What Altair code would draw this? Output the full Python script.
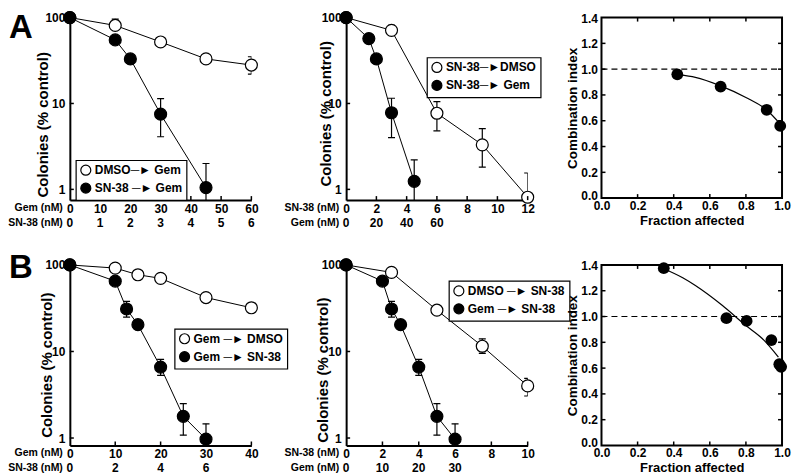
import altair as alt
import pandas as pd

FONT = "Liberation Sans"
ARROW = "\u2500\u25ba"

# ---------------- data ----------------
# Panel A-left: x = Gem (nM)
a1_open_x = [0, 15, 30, 45, 60]
a1_open_y = [100, 81, 52, 33, 28]
a1_fill_x = [0, 15, 20, 30, 45]
a1_fill_y = [100, 55, 33, 7.5, 1.05]
a1_err_x = [15, 60, 30, 45]
a1_err_lo = [81, 22, 4.1, 0.3]
a1_err_hi = [96, 35, 11.4, 2.0]
a1_xticks = [0, 10, 20, 30, 40, 50, 60]
a1_row2_pos = [0, 10, 20, 30, 40, 50, 60]
a1_row2_lab = ["0", "1", "2", "3", "4", "5", "6"]
a1_legend = ["DMSO" + ARROW + " Gem", "SN-38 " + ARROW + " Gem"]
a1_rows = ["Gem (nM)", "SN-38 (nM)"]

# Panel A-middle: x = SN-38 (nM)
a2_open_x = [0, 3, 6, 9, 12]
a2_open_y = [100, 71, 7.7, 3.3, 0.81]
a2_fill_x = [0, 1.5, 2, 3, 4.5]
a2_fill_y = [100, 57, 33, 7.8, 1.24]
a2_err_x = [3, 6, 9, 12, 3, 4.5]
a2_err_lo = [71, 4.8, 1.82, 0.3, 4.0, 0.3]
a2_err_hi = [81, 10.5, 5.1, 1.55, 11.5, 2.2]
a2_xticks = [0, 2, 4, 6, 8, 10, 12]
a2_row2_pos = [0, 2, 4, 6]
a2_row2_lab = ["0", "20", "40", "60"]
a2_legend = ["SN-38" + ARROW + "DMSO", "SN-38" + ARROW + " Gem"]
a2_rows = ["SN-38 (nM)", "Gem (nM)"]

# Panel A-right: combination index
a3_fa = [0.42, 0.66, 0.915, 0.99]
a3_ci = [0.96, 0.865, 0.685, 0.56]
a3_curve_fa = [0.43, 0.52, 0.66, 0.80, 0.92, 0.99]
a3_curve_ci = [0.955, 0.936, 0.87, 0.78, 0.678, 0.575]

# Panel B-left: x = Gem (nM)
b1_open_x = [0, 10, 15, 20, 30, 40]
b1_open_y = [100, 92, 77, 70, 42, 32]
b1_fill_x = [0, 10, 12.5, 15, 20, 25, 30]
b1_fill_y = [100, 65, 31, 20.4, 6.6, 1.78, 0.97]
b1_err_x = [12.5, 15, 20, 25, 30]
b1_err_lo = [25, 18, 5.3, 1.08, 0.3]
b1_err_hi = [38, 23, 8.1, 2.5, 1.46]
b1_xticks = [0, 10, 20, 30, 40]
b1_row2_pos = [0, 10, 20, 30]
b1_row2_lab = ["0", "2", "4", "6"]
b1_legend = ["Gem " + ARROW + " DMSO", "Gem " + ARROW + " SN-38"]
b1_rows = ["Gem (nM)", "SN-38 (nM)"]

# Panel B-middle: x = SN-38 (nM)
b2_open_x = [0, 2.5, 5, 7.5, 10]
b2_open_y = [100, 82, 30, 11.5, 4.0]
b2_fill_x = [0, 2, 2.5, 3, 4, 5, 6]
b2_fill_y = [100, 65, 31, 20.4, 6.6, 1.78, 0.97]
b2_err_x = [7.5, 10, 2.5, 3, 4, 5, 6]
b2_err_lo = [9.5, 3.06, 25, 18, 5.3, 1.08, 0.3]
b2_err_hi = [14, 4.9, 38, 23, 8.1, 2.5, 1.46]
b2_xticks = [0, 2, 4, 6, 8, 10]
b2_row2_pos = [0, 2, 4, 6]
b2_row2_lab = ["0", "10", "20", "30"]
b2_legend = ["DMSO " + ARROW + " SN-38", "Gem " + ARROW + " SN-38"]
b2_rows = ["SN-38 (nM)", "Gem (nM)"]

# Panel B-right: combination index
b3_fa = [0.345, 0.692, 0.804, 0.941, 0.985, 0.995]
b3_ci = [1.375, 0.987, 0.966, 0.817, 0.63, 0.61]
b3_curve_fa = [0.345, 0.45, 0.52, 0.67, 0.80, 0.89, 0.98]
b3_curve_ci = [1.37, 1.30, 1.24, 1.085, 0.93, 0.83, 0.685]

ci_xvals = [0, 0.2, 0.4, 0.6, 0.8, 1.0]
ci_yvals = [0, 0.2, 0.4, 0.6, 0.8, 1.0, 1.2, 1.4]
ci_xinner = [0.2, 0.4, 0.6, 0.8]
ci_yinner = [0.2, 0.4, 0.6, 0.8, 1.0, 1.2]
log_ticks = [1, 10, 100]


def txt(s, x, y, size, align="left", baseline="top"):
    return alt.Chart(pd.DataFrame({"t": [s]})).mark_text(
        font=FONT, fontSize=size, fontWeight="bold", color="black",
        align=align, baseline=baseline
    ).encode(x=alt.value(x), y=alt.value(y), text="t:N")


def survival(open_x, open_y, fill_x, fill_y, err_x, err_lo, err_hi, xticks,
             row2_pos, row2_lab, legend_labels, rows, ymin, w, h,
             leg_x, leg_y, ytx, yty, letter=None, letter_y=0):
    xs = alt.Scale(domain=[xticks[0], xticks[-1]], nice=False, zero=False)
    ys = alt.Scale(type="log", domain=[ymin, 100], nice=False)
    xax = alt.Axis(values=xticks, format="d", ticks=False, tickSize=0, labelPadding=3,
                   labelFlush=False, labelOverlap=False, grid=False, domainWidth=2,
                   title=None)
    yax = alt.Axis(values=log_ticks, format="d", ticks=False, tickSize=0, labelPadding=5,
                   labelFlush=False, labelOverlap=False, grid=False, domainWidth=2,
                   title="Colonies (% control)", titleFontSize=15, titleAngle=270,
                   titleAlign="center", titleBaseline="middle", titleX=ytx, titleY=yty)

    def X(f):
        return alt.X(f + ":Q", scale=xs, axis=xax)

    def Y(f):
        return alt.Y(f + ":Q", scale=ys, axis=yax)

    pts = pd.DataFrame({
        "x": open_x + fill_x,
        "y": open_y + fill_y,
        "g": [legend_labels[0]] * len(open_x) + [legend_labels[1]] * len(fill_x),
        "o": list(range(len(open_x))) + list(range(len(fill_x))),
    })
    err = pd.DataFrame({"x": err_x, "lo": err_lo, "hi": err_hi})
    caps = pd.DataFrame({"x": err_x + err_x, "yc": err_lo + err_hi})

    lines = alt.Chart(pts).mark_line(color="black", strokeWidth=1).encode(
        X("x"), Y("y"), detail="g:N", order="o:Q")
    bars = alt.Chart(err).mark_rule(color="black", strokeWidth=1.2, clip=True).encode(
        X("x"), Y("lo"), y2="hi:Q")
    capm = alt.Chart(caps).mark_tick(orient="horizontal", size=7, thickness=1.2,
                                     color="black", opacity=1, clip=True).encode(X("x"), Y("yc"))
    points = alt.Chart(pts).mark_point(filled=True, shape="circle", size=144, stroke="black",
                                       strokeWidth=1.2, opacity=1).encode(
        X("x"), Y("y"),
        fill=alt.Fill("g:N", scale=alt.Scale(domain=legend_labels, range=["white", "black"]),
                      legend=alt.Legend(title=None, orient="none", legendX=leg_x, legendY=leg_y,
                                        direction="vertical", symbolType="circle",
                                        symbolSize=100, symbolStrokeColor="black",
                                        symbolStrokeWidth=1.2, labelFontSize=12,
                                        labelFontWeight="bold", labelColor="black",
                                        labelOffset=3, rowPadding=2)))
    xt = alt.Chart(pd.DataFrame({"x": xticks[1:]})).mark_rule(color="black", strokeWidth=1.5).encode(
        X("x"), y=alt.value(h), y2=alt.value(h - 4))
    yt = alt.Chart(pd.DataFrame({"y": log_ticks})).mark_rule(color="black", strokeWidth=1.5).encode(
        Y("y"), x=alt.value(0), x2=alt.value(4))
    row2 = alt.Chart(pd.DataFrame({"x": row2_pos, "t": row2_lab})).mark_text(
        font=FONT, fontSize=12, fontWeight="bold", color="black", align="center", baseline="top"
    ).encode(X("x"), y=alt.value(h + 18), text="t:N")
    layers = [lines, bars, capm, points, xt, yt, row2,
              txt(rows[0], -7, h + 3, 10.5, align="right"),
              txt(rows[1], -7, h + 18, 10.5, align="right")]
    if letter:
        layers.append(txt(letter, -61, letter_y, 33, baseline="alphabetic"))
    return alt.layer(*layers).properties(width=w, height=h)


def ci_panel(fa, ci, cfa, cci, w, h):
    xs = alt.Scale(domain=[0, 1], nice=False, zero=False)
    ys = alt.Scale(domain=[0, 1.4], nice=False, zero=False)
    xax = alt.Axis(values=ci_xvals, format=".1f", ticks=False, tickSize=0, labelPadding=2,
                   labelFlush=False, labelOverlap=False, grid=False, domain=False,
                   title="Fraction affected", titleFontSize=13, titleX=w / 2, titleY=22,
                   titleAlign="center", titleBaseline="middle")
    yax = alt.Axis(values=ci_yvals, format=".1f", ticks=False, tickSize=0, labelPadding=4,
                   labelFlush=True, labelFlushOffset=4, labelOverlap=False, grid=False,
                   domain=False, title="Combination index", titleFontSize=13.5, titleAngle=270,
                   titleAlign="center", titleBaseline="middle", titleX=-29, titleY=h / 2)

    def X(f):
        return alt.X(f + ":Q", scale=xs, axis=xax)

    def Y(f):
        return alt.Y(f + ":Q", scale=ys, axis=yax)

    dash = alt.Chart(pd.DataFrame({"y": [1.0]})).mark_rule(
        color="black", strokeWidth=1.2, strokeDash=[6, 4]).encode(
        Y("y"), x=alt.value(0), x2=alt.value(w))
    curve = alt.Chart(pd.DataFrame({"fa": cfa, "ci": cci})).mark_line(
        color="black", strokeWidth=1.2, interpolate="monotone").encode(X("fa"), Y("ci"))
    pts = alt.Chart(pd.DataFrame({"fa": fa, "ci": ci})).mark_point(
        filled=True, shape="circle", size=140, color="black", opacity=1).encode(X("fa"), Y("ci"))
    xin = pd.DataFrame({"x": ci_xinner})
    yin = pd.DataFrame({"y": ci_yinner})
    tb = alt.Chart(xin).mark_rule(color="black", strokeWidth=1.5).encode(
        X("x"), y=alt.value(h), y2=alt.value(h - 4))
    tt = alt.Chart(xin).mark_rule(color="black", strokeWidth=1.5).encode(
        X("x"), y=alt.value(0), y2=alt.value(4))
    tl = alt.Chart(yin).mark_rule(color="black", strokeWidth=1.5).encode(
        Y("y"), x=alt.value(0), x2=alt.value(4))
    tr = alt.Chart(yin).mark_rule(color="black", strokeWidth=1.5).encode(
        Y("y"), x=alt.value(w), x2=alt.value(w - 4))
    return alt.layer(dash, curve, pts, tb, tt, tl, tr).properties(
        width=w, height=h, view=alt.ViewBackground(stroke="black", strokeWidth=2))


def spacer(w):
    return alt.Chart(pd.DataFrame({"s": [0]})).mark_point(opacity=0).encode(
        x=alt.value(0), y=alt.value(0)).properties(width=w, height=10)


A1 = survival(a1_open_x, a1_open_y, a1_fill_x, a1_fill_y, a1_err_x, a1_err_lo, a1_err_hi,
              a1_xticks, a1_row2_pos, a1_row2_lab, a1_legend, a1_rows, 0.75, 182, 183,
              6, 143, -27, 107, letter="A", letter_y=20)
A2 = survival(a2_open_x, a2_open_y, a2_fill_x, a2_fill_y, a2_err_x, a2_err_lo, a2_err_hi,
              a2_xticks, a2_row2_pos, a2_row2_lab, a2_legend, a2_rows, 0.75, 182, 183,
              81, 40, -21, 96)
A3 = ci_panel(a3_fa, a3_ci, a3_curve_fa, a3_curve_ci, 181, 181)
B1 = survival(b1_open_x, b1_open_y, b1_fill_x, b1_fill_y, b1_err_x, b1_err_lo, b1_err_hi,
              b1_xticks, b1_row2_pos, b1_row2_lab, b1_legend, b1_rows, 0.82, 182, 181,
              105, 64, -23, 100, letter="B", letter_y=13)
B2 = survival(b2_open_x, b2_open_y, b2_fill_x, b2_fill_y, b2_err_x, b2_err_lo, b2_err_hi,
              b2_xticks, b2_row2_pos, b2_row2_lab, b2_legend, b2_rows, 0.82, 182, 181,
              103, 16, -24, 105)
B3 = ci_panel(b3_fa, b3_ci, b3_curve_fa, b3_curve_ci, 181, 181)

chart = alt.concat(
    A1, spacer(95), A2, spacer(74), A3,
    B1, spacer(95), B2, spacer(74), B3,
    columns=5, spacing={"row": 65, "column": 0}, bounds="flush"
).resolve_scale(fill="independent").resolve_legend(fill="independent").properties(
    padding=0
).configure_view(stroke=None).configure_axis(
    labelFont=FONT, labelFontSize=12, labelFontWeight="bold", labelColor="black",
    titleFont=FONT, titleFontWeight="bold", titleColor="black", domainColor="black"
).configure_legend(
    labelFont=FONT, strokeColor="black", strokeWidth=1.2, fillColor="white", padding=4
)

chart.save("out.html", embed_options={"renderer": "svg", "actions": False})
